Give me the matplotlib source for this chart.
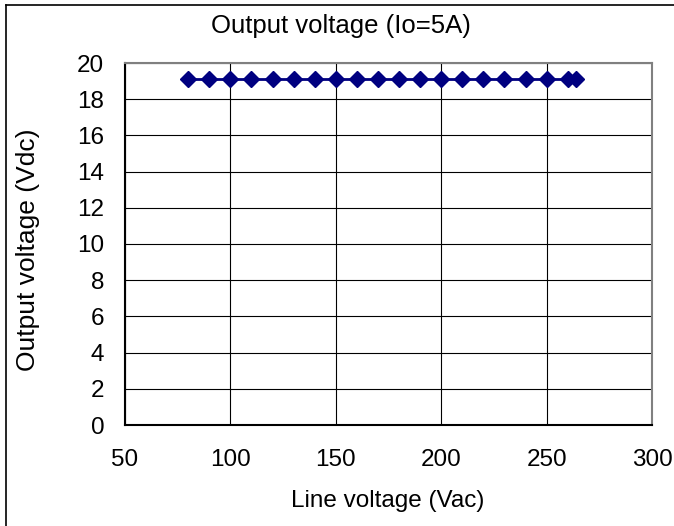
import matplotlib
matplotlib.use("Agg")
import matplotlib.pyplot as plt
from matplotlib.lines import Line2D

line_voltage = [80, 90, 100, 110, 120, 130, 140, 150, 160, 170, 180, 190, 200,
                210, 220, 230, 240, 250, 260, 264]
output_voltage = [19.1] * 20
x_ticks = [50, 100, 150, 200, 250, 300]
y_ticks = [0, 2, 4, 6, 8, 10, 12, 14, 16, 18, 20]

plt.rcParams['font.family'] = ['Liberation Sans', 'DejaVu Sans']
W, H = 674, 526
fig = plt.figure(figsize=(W/100, H/100), dpi=100)
ax = fig.add_axes([125/W, 1-425/H, (652-125)/W, (425-63)/H])

ax.plot(line_voltage, output_voltage, color='#000080', lw=2, marker='D',
        markersize=8.5, markerfacecolor='#000080', markeredgecolor='#000080', zorder=3)

FS = 17.5
ax.set_xlim(50, 300)
ax.set_ylim(0, 20)
ax.set_xticks(x_ticks)
ax.set_yticks(y_ticks)
ax.grid(True, color='black', lw=0.8)
ax.tick_params(labelsize=FS, length=0)
ax.tick_params(axis='y', pad=15)
ax.tick_params(axis='x', pad=17)
for s in ['top', 'right']:
    ax.spines[s].set_color('#808080')
    ax.spines[s].set_linewidth(1.5)
for s in ['left', 'bottom']:
    ax.spines[s].set_color('black')
    ax.spines[s].set_linewidth(1.5)

fig.text(341/W, 1-33/H, 'Output voltage (Io=5A)', fontsize=18.5, ha='center', va='baseline')
fig.text(388/W, 1-507/H, 'Line voltage (Vac)', fontsize=FS, ha='center', va='baseline')
fig.text(28/W, 1-250/H, 'Output voltage (Vdc)', fontsize=19, ha='center', va='center',
         rotation=90)

fig.add_artist(Line2D([6/W, 1.0], [1-5/H, 1-5/H], color='black', lw=1.2,
                      transform=fig.transFigure))
fig.add_artist(Line2D([6/W, 6/W], [0, 1-5/H], color='black', lw=1.2,
                      transform=fig.transFigure))

fig.savefig('out.png', dpi=100)
